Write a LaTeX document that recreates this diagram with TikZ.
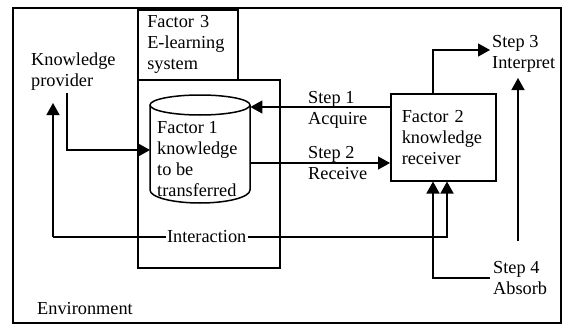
\documentclass[tikz,border=0pt]{standalone}
\usepackage{fontspec}
\setmainfont{Liberation Serif}
\usetikzlibrary{arrows.meta}
\begin{document}
\begin{tikzpicture}[x=1pt,y=-1pt,
  every node/.style={inner sep=0pt, font=\fontsize{18.3}{21}\selectfont},
  ln/.style={line width=1.5pt},
  arr/.style={ln,-{Triangle[length=12pt,width=13pt]}},
  txt/.style={anchor=north west, align=left},
  boxn/.style={draw, line width=1.5pt, anchor=north west}]
\useasboundingbox (0,0) rectangle (563,324);
% frames
\node[boxn, minimum width=548pt, minimum height=315pt] (env) at (12,7) {};
\node[txt] (envlab) at (37,302) {Environment};
\node[boxn, minimum width=100pt, minimum height=70pt, text width=81pt, inner xsep=9.5pt, align=left] (f3lab) at (137,9) {Factor 3\\E-learning\\system};
\node[boxn, minimum width=142pt, minimum height=188pt] (f3) at (137,79) {};
% cylinder
\node[anchor=north west, minimum width=100pt, minimum height=108pt] (cylbody) at (150,95) {};
\draw[ln] (200,105) ellipse[x radius=50pt, y radius=10pt];
\draw[ln] (150,105) -- (150,190) arc[start angle=180, end angle=360, x radius=50pt, y radius=13pt] -- (250,105);
\node[txt] (cyl) at (157,121) {Factor 1\\knowledge\\to be\\transferred};
% factor 2
\node[boxn, minimum width=105pt, minimum height=87pt, text width=83pt, inner xsep=11pt, align=left] (f2) at (390,93) {Factor 2\\knowledge\\receiver};
% labels
\node[txt] (prov) at (31,53) {Knowledge\\provider};
\node[txt] (s1) at (308,91) {Step 1\\Acquire};
\node[txt] (s2) at (308,146) {Step 2\\Receive};
\node[txt] (s3) at (492,35) {Step 3\\Interpret};
\node[txt] (s4) at (493,261) {Step 4\\Absorb};
% free ends
\coordinate (provout) at (67,93);
\coordinate (provin) at (53,103);
\coordinate (intL) at (53,237);
\coordinate (intR) at (447,237);
\coordinate (s4out) at (490,278);
\coordinate (s3in) at (490,50);
\coordinate (s4up) at (518,241);
\coordinate (s3up) at (518,78);
% connectors
\draw[arr] (provout) |- (cylbody.west |- 0,150);
\draw[arr] (intL) -- (provin);
\draw[arr] (intL) -- node[pos=0.39, fill=white, inner xsep=1.5pt, inner ysep=1pt] (intlab) {Interaction} (intR) -- (f2.south -| intR);
\draw[arr] (s4out) -| (f2.south -| 433,0);
\draw[arr] (f2.north -| 433,0) |- (s3in);
\draw[arr] (s4up) -- (s3up);
\draw[arr] (f2.west |- 0,107) -- (cylbody.east |- 0,107);
\draw[arr] (cylbody.east |- 0,163) -- (f2.west |- 0,163);
\end{tikzpicture}
\end{document}
